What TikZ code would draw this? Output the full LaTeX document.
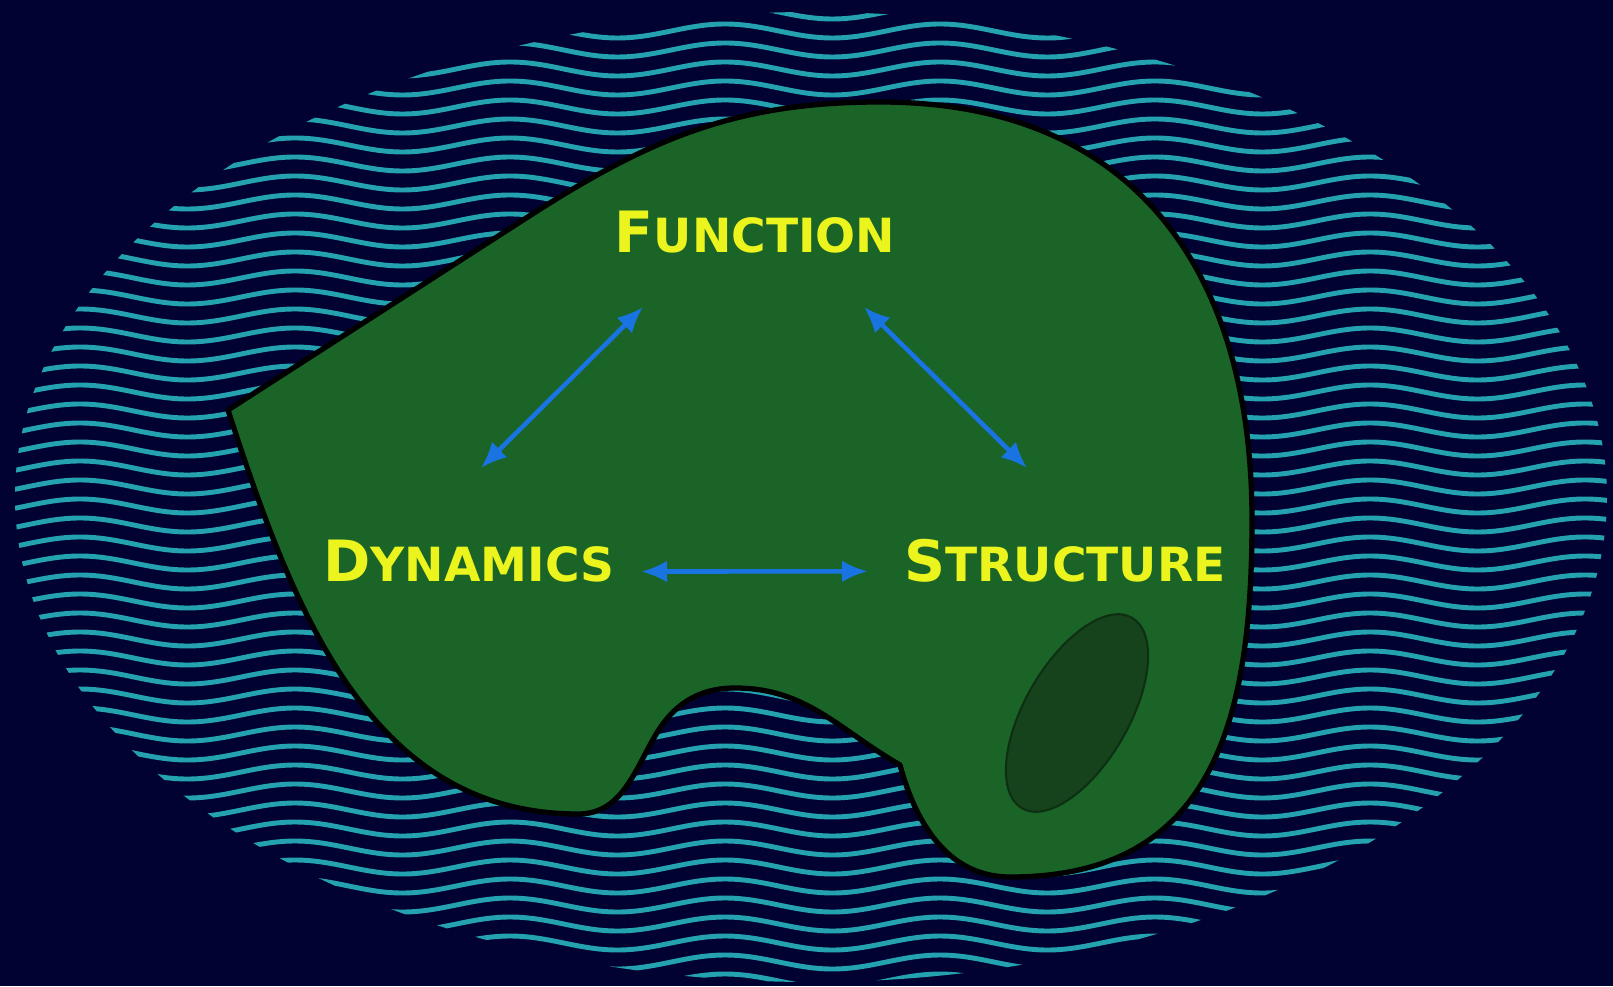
\documentclass[tikz,border=0pt]{standalone}
\usepackage{fontspec}
\setmainfont{DejaVu Sans}
\usepackage{tikz}
\usetikzlibrary{arrows.meta, calc, positioning}

\definecolor{night}{RGB}{2,2,50}
\definecolor{ripple}{RGB}{36,162,176}
\definecolor{leaf}{RGB}{26,100,40}
\definecolor{pit}{RGB}{22,66,28}
\definecolor{pitline}{RGB}{14,48,18}
\definecolor{lemon}{RGB}{236,244,30}
\definecolor{linkblue}{RGB}{25,115,225}

\newcommand{\capword}[2]{{\fontsize{16.2}{18}\selectfont #1}{\fontsize{13.4}{15}\selectfont #2}}

\begin{document}
\begin{tikzpicture}[
    wave/.style={ripple, line width=1.4pt},
    blob/.style={fill=leaf, draw=black, line width=1.5pt, line join=round},
    word/.style={text=lemon, font=\bfseries, inner sep=0pt, anchor=base},
    twoway/.style={linkblue, line width=1.3pt, {Latex[length=2.6mm,width=2.2mm]}-{Latex[length=2.6mm,width=2.2mm]}}
  ]
        % Background
        \useasboundingbox (0,0) rectangle (16.13,9.86);
        \fill[night] (0,0) rectangle (16.13,9.86);

        % Rippled sea
        \begin{scope}
          \clip (8.11,4.89) ellipse [x radius=7.96, y radius=4.85];
          \foreach \row in {0,...,51}
            \draw[wave] (-1.35, {0.12+0.19*\row})
              \foreach \k in {1,...,9} {cos ++(0.5375,-0.07) sin ++(0.5375,-0.07) cos ++(0.5375,0.07) sin ++(0.5375,0.07)};
        \end{scope}

        % Island
        \filldraw[blob] (2.28,5.76) -- (5.20,7.64)
          to[out=33,in=180] (8.80,8.84)
          to[out=0,in=90,looseness=1.15] (12.52,4.66)
          to[out=-90,in=0,looseness=1.2] (10.10,1.09)
          to[out=180,in=-75] (9.00,2.21)
          to[out=150,in=0] (7.35,2.98)
          to[out=180,in=60] (6.55,2.50)
          to[out=240,in=0] (5.78,1.72)
          to[out=180,in=-72] (2.28,5.76) -- cycle;
        \filldraw[fill=pit, draw=pitline, line width=0.6pt, rotate around={60:(10.77,2.73)}] (10.77,2.73) ellipse [x radius=1.10, y radius=0.52];

        % Nodes
        \node[word] (fun) at (7.55,7.34) {\capword{F}{UNCTION}};
        \node[word] (dyn) at (4.69,4.05) {\capword{D}{YNAMICS}};
        \node[word] (str) at (10.65,4.05) {\capword{S}{TRUCTURE}};

        % Arrow ends
        \coordinate (fl) at (6.43,6.79);
        \coordinate (dl) at (4.81,5.18);
        \coordinate (fr) at (8.64,6.79);
        \coordinate (sr) at (10.27,5.18);

        % Arrows
        \draw[twoway] (fl) -- (dl);
        \draw[twoway] (fr) -- (sr);
        \draw[twoway, shorten <=0.26cm, shorten >=0.36cm] ([yshift=-1.1mm]dyn.east) -- ([yshift=-1.1mm]str.west);
\end{tikzpicture}
\end{document}
